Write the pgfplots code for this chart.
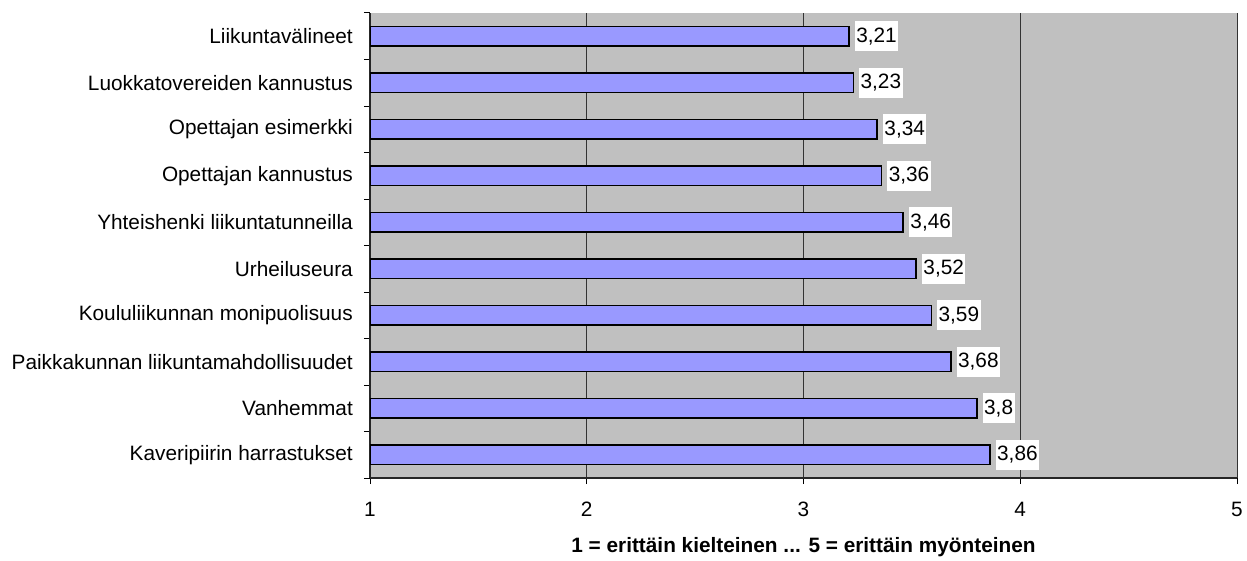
\documentclass[border=0pt]{standalone}
\usepackage{fontspec}
\setmainfont{Liberation Sans}
\usepackage{pgfplots}
\pgfplotsset{compat=1.18}
\definecolor{plotbg}{HTML}{C0C0C0}
\definecolor{barfill}{HTML}{9999FF}

\begin{document}
\fontsize{20.8}{25}\selectfont
\begin{tikzpicture}
\useasboundingbox (0,0) rectangle (1247pt,560pt);
\begin{axis}[
  at={(370pt,82pt)}, anchor=south west,
  scale only axis, width=867pt, height=465pt,
  xbar, bar width=0.43, bar shift=0pt,
  xmin=1, xmax=5, ymin=-0.5, ymax=9.5,
  axis background/.style={fill=plotbg},
  axis x line*=bottom, axis y line*=left,
  axis line style={-, line width=1.2pt, black!85},
  xtick={1,...,5},
  ytick={0,...,9},
  yticklabels={Kaveripiirin harrastukset, Vanhemmat, Paikkakunnan liikuntamahdollisuudet, Koululiikunnan monipuolisuus, Urheiluseura, Yhteishenki liikuntatunneilla, Opettajan kannustus, Opettajan esimerkki, Luokkatovereiden kannustus, Liikuntavälineet},
  minor xtick={1,...,5},
  minor ytick={-0.5,0.5,...,9.5},
  major tick length=0pt, minor tick length=6pt, tick align=outside,
  minor tick style={black, line width=1pt},
  xmajorgrids, major grid style={black!80, line width=0.9pt},
  /pgf/number format/assume math mode=true,
  xticklabel style={anchor=base, yshift=-38pt},
  yticklabel style={anchor=east, inner sep=0pt, xshift=-17pt},
  xlabel={\textbf{1 = erittäin kielteinen ... 5 = erittäin myönteinen}},
  xlabel style={at={(axis description cs:0.5,0)}, anchor=base, yshift=-74pt},
  point meta=x,
  nodes near coords={\pgfmathprintnumber[use comma, assume math mode=true]{\pgfplotspointmeta}},
  nodes near coords align={horizontal},
  every node near coord/.append style={anchor=west, fill=white, text=black, inner xsep=1.5pt, inner ysep=2.5pt, text height=0.9em, text depth=0.3em, xshift=5pt},
]
\addplot[fill=barfill, draw=black, line width=1.5pt] coordinates {
  (3.86,0) (3.80,1) (3.68,2) (3.59,3) (3.52,4)
  (3.46,5) (3.36,6) (3.34,7) (3.23,8) (3.21,9)
};
\end{axis}
\end{tikzpicture}
\end{document}
